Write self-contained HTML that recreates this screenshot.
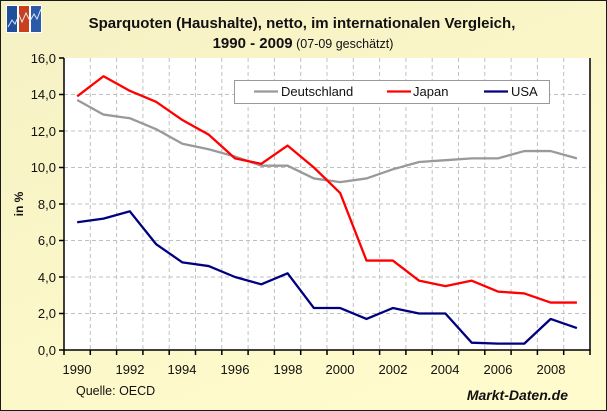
<!DOCTYPE html>
<html><head><meta charset="utf-8"><style>
html,body{margin:0;padding:0;background:#fff}
svg{display:block;font-family:"Liberation Sans",Arial,sans-serif}
</style></head><body>
<svg width="607" height="411" viewBox="0 0 607 411" xmlns="http://www.w3.org/2000/svg">
<defs><linearGradient id="bg" x1="0" y1="0" x2="0.6" y2="1"><stop offset="0" stop-color="#f5f1c4"/><stop offset="1" stop-color="#fffbcc"/></linearGradient></defs>
<rect x="0.5" y="0.5" width="606" height="410" fill="url(#bg)" stroke="#1a1a1a" stroke-width="1"/>
<g transform="translate(6,5)">
<rect width="36" height="28" fill="#fff"/>
<rect x="1" y="1" width="10" height="26" fill="#1f4e9a"/>
<rect x="13" y="1" width="10" height="26" fill="#c8401e"/>
<rect x="25" y="1" width="10" height="26" fill="#2a5aa8"/>
<polyline points="2,22 6,15 9,19 13,10 16,17 20,8 24,16 28,9 31,14 35,4" fill="none" stroke="#dfe8f6" stroke-width="1"/>
</g>
<text x="302" y="28" text-anchor="middle" font-size="15" font-weight="bold" fill="#111">Sparquoten (Haushalte), netto, im internationalen Vergleich,</text>
<text x="303" y="48" text-anchor="middle" font-size="15" fill="#111"><tspan font-weight="bold">1990 - 2009</tspan><tspan font-size="12.5"> (07-09 geschätzt)</tspan></text>
<rect x="64" y="58" width="526" height="292" fill="#fff"/>
<g stroke="#c0c0c0" stroke-dasharray="4,3" stroke-width="1">
<line x1="64" x2="590" y1="94.5" y2="94.5"/><line x1="64" x2="590" y1="131" y2="131"/><line x1="64" x2="590" y1="167.5" y2="167.5"/><line x1="64" x2="590" y1="204" y2="204"/><line x1="64" x2="590" y1="240.5" y2="240.5"/><line x1="64" x2="590" y1="277" y2="277"/><line x1="64" x2="590" y1="313.5" y2="313.5"/>
<line y1="58" y2="350" x1="90.3" x2="90.3"/><line y1="58" y2="350" x1="116.6" x2="116.6"/><line y1="58" y2="350" x1="142.9" x2="142.9"/><line y1="58" y2="350" x1="169.2" x2="169.2"/><line y1="58" y2="350" x1="195.5" x2="195.5"/><line y1="58" y2="350" x1="221.8" x2="221.8"/><line y1="58" y2="350" x1="248.1" x2="248.1"/><line y1="58" y2="350" x1="274.4" x2="274.4"/><line y1="58" y2="350" x1="300.7" x2="300.7"/><line y1="58" y2="350" x1="327" x2="327"/><line y1="58" y2="350" x1="353.3" x2="353.3"/><line y1="58" y2="350" x1="379.6" x2="379.6"/><line y1="58" y2="350" x1="405.9" x2="405.9"/><line y1="58" y2="350" x1="432.2" x2="432.2"/><line y1="58" y2="350" x1="458.5" x2="458.5"/><line y1="58" y2="350" x1="484.8" x2="484.8"/><line y1="58" y2="350" x1="511.1" x2="511.1"/><line y1="58" y2="350" x1="537.4" x2="537.4"/><line y1="58" y2="350" x1="563.7" x2="563.7"/>
</g>
<g stroke="#000" stroke-width="1.5" fill="none">
<path d="M64,58V350H590V58"/>
<path d="M59,58H64M59,94.5H64M59,131H64M59,167.5H64M59,204H64M59,240.5H64M59,277H64M59,313.5H64M59,350H64"/>
<path d="M64,350v5M90.3,350v5M116.6,350v5M142.9,350v5M169.2,350v5M195.5,350v5M221.8,350v5M248.1,350v5M274.4,350v5M300.7,350v5M327,350v5M353.3,350v5M379.6,350v5M405.9,350v5M432.2,350v5M458.5,350v5M484.8,350v5M511.1,350v5M537.4,350v5M563.7,350v5M590,350v5"/>
</g>
<g font-size="13" fill="#111" text-anchor="end">
<text x="56" y="63">16,0</text><text x="56" y="99">14,0</text><text x="56" y="136">12,0</text><text x="56" y="172">10,0</text><text x="56" y="209">8,0</text><text x="56" y="245">6,0</text><text x="56" y="282">4,0</text><text x="56" y="318">2,0</text><text x="56" y="355">0,0</text>
</g>
<g font-size="13" fill="#111" text-anchor="middle">
<text x="77" y="374">1990</text><text x="130" y="374">1992</text><text x="182" y="374">1994</text><text x="235" y="374">1996</text><text x="288" y="374">1998</text><text x="340" y="374">2000</text><text x="393" y="374">2002</text><text x="445" y="374">2004</text><text x="498" y="374">2006</text><text x="551" y="374">2008</text>
</g>
<text transform="translate(23,204) rotate(-90)" text-anchor="middle" font-size="12" font-weight="bold" fill="#111">in %</text>
<text x="76" y="395" font-size="12.5" fill="#111">Quelle: OECD</text>
<text x="568" y="400" text-anchor="end" font-size="14" font-weight="bold" font-style="italic" fill="#111">Markt-Daten.de</text>
<g transform="translate(77.2,350) scale(26.3,-18.25)" fill="none" stroke-width="2.3" stroke-linejoin="round">
<polyline vector-effect="non-scaling-stroke" stroke="#999" points="0,13.7 1,12.9 2,12.7 3,12.1 4,11.3 5,11.0 6,10.6 7,10.1 8,10.1 9,9.4 10,9.2 11,9.4 12,9.9 13,10.3 14,10.4 15,10.5 16,10.5 17,10.9 18,10.9 19,10.5"/>
<polyline vector-effect="non-scaling-stroke" stroke="#ff0000" points="0,13.9 1,15.0 2,14.2 3,13.6 4,12.6 5,11.8 6,10.5 7,10.2 8,11.2 9,10.0 10,8.6 11,4.9 12,4.9 13,3.8 14,3.5 15,3.8 16,3.2 17,3.1 18,2.6 19,2.6"/>
<polyline vector-effect="non-scaling-stroke" stroke="#000080" points="0,7.0 1,7.2 2,7.6 3,5.8 4,4.8 5,4.6 6,4.0 7,3.6 8,4.2 9,2.3 10,2.3 11,1.7 12,2.3 13,2.0 14,2.0 15,0.4 16,0.35 17,0.35 18,1.7 19,1.2"/>
</g>
<rect x="234.5" y="80.5" width="315" height="23" fill="#fff" stroke="#999" stroke-width="1"/>
<g stroke-width="2.3"><line x1="254" x2="278" y1="91.5" y2="91.5" stroke="#999"/><line x1="387" x2="411" y1="91.5" y2="91.5" stroke="#f00"/><line x1="484" x2="508" y1="91.5" y2="91.5" stroke="#000080"/></g>
<g font-size="13" fill="#111"><text x="281" y="96">Deutschland</text><text x="413" y="96">Japan</text><text x="511" y="96">USA</text></g>
</svg>
</body></html>
